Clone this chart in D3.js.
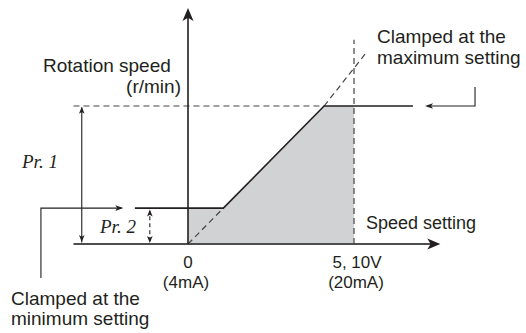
<!DOCTYPE html>
<html><head><meta charset="utf-8">
<script src="https://cdn.jsdelivr.net/npm/d3@7"></script>
<style>body{margin:0;background:#fff}svg{display:block}</style>
</head><body><svg id="c" width="526" height="333"></svg>
<script>
// ---- data (speed setting in % of full scale, rotation speed in % of Pr. 1) ----
const clampedX = [-32, 21.3, 82, 135.5];   // solid output characteristic
const clampedY = [26, 26, 100, 100];
const shadeX = [0, 0, 21.3, 82, 100, 100];
const shadeY = [0, 26, 26, 100, 100, 0];
const biasLowX = [0, 21.3];                 // dashed line below the minimum clamp
const biasLowY = [0, 26];
const biasHighX = [82, 107.2];              // dashed line above the maximum clamp
const biasHighY = [100, 138.4];
const pr1 = 100, pr2 = 26, fullScale = 100;
const xTickLabels = [["0", "(4mA)"], ["5, 10V", "(20mA)"]];
const xTickValues = [0, fullScale];

const svg = d3.select("#c");
const x = d3.scaleLinear().domain([0, 100]).range([188, 354]);
const y = d3.scaleLinear().domain([0, 100]).range([244, 106]);
const line = d3.line().x(d => x(d[0])).y(d => y(d[1]));
const zip = (a, b) => a.map((v, i) => [v, b[i]]);
const ink = "#231f20";

// shaded region
svg.append("path").attr("d", line(zip(shadeX, shadeY)) + "Z").attr("fill", "#d1d2d4");

// dashed guides
const dash = (pts, w) => svg.append("path").attr("d", line(pts)).attr("fill", "none")
  .attr("stroke", "#444").attr("stroke-width", w || 1.2).attr("stroke-dasharray", "6,4");
dash([[-69, pr1], [82, pr1]]);
dash([[fullScale, 0], [fullScale, 148]]);
dash(zip(biasLowX, biasLowY));
dash(zip(biasHighX, biasHighY));

// solid characteristic
svg.append("path").attr("d", line(zip(clampedX, clampedY))).attr("fill", "none")
  .attr("stroke", ink).attr("stroke-width", 1.6);

// arrowhead helper: tip at (tx,ty), direction angle (deg), length, half width
function head(tx, ty, ang, len, hw) {
  const a = ang * Math.PI / 180, c = Math.cos(a), s = Math.sin(a);
  const bx = tx - c * len, by = ty - s * len;
  const p = [[tx, ty], [bx - s * hw, by + c * hw], [tx - c * len * 0.75, ty - s * len * 0.75], [bx + s * hw, by - c * hw]];
  svg.append("path").attr("d", "M" + p.map(q => q.join(",")).join("L") + "Z").attr("fill", ink);
}

// axes
svg.append("line").attr("x1", x(-69)).attr("x2", x(150)).attr("y1", y(0)).attr("y2", y(0))
  .attr("stroke", "#4d4d4f").attr("stroke-width", 2.2);
head(x(152), y(0), 0, 13, 5.5);
svg.append("line").attr("x1", x(0)).attr("x2", x(0)).attr("y1", y(0)).attr("y2", y(167))
  .attr("stroke", ink).attr("stroke-width", 1.6);
head(x(0), y(171), -90, 13, 5.5);

// Pr.1 span arrow (solid)
svg.append("line").attr("x1", x(-64)).attr("x2", x(-64)).attr("y1", y(1)).attr("y2", y(99))
  .attr("stroke", ink).attr("stroke-width", 1.1);
head(x(-64), y(99.5), -90, 7, 2.8);
head(x(-64), y(1.4), 90, 7, 2.8);
// Pr.2 span arrow (dashed)
svg.append("line").attr("x1", x(-23)).attr("x2", x(-23)).attr("y1", y(2)).attr("y2", y(24))
  .attr("stroke", ink).attr("stroke-width", 1.1).attr("stroke-dasharray", "4,3");
head(x(-23), y(25), -90, 7, 2.8);
head(x(-23), y(0.8), 90, 7, 2.8);

// clamp callout arrows
svg.append("path").attr("d", line([[-88.6, -24.6], [-88.6, pr2], [-40, pr2]]))
  .attr("fill", "none").attr("stroke", ink).attr("stroke-width", 1.1);
head(x(-39), y(pr2), 0, 8, 2.8);
svg.append("path").attr("d", line([[172.9, 113.8], [172.9, pr1], [144, pr1]]))
  .attr("fill", "none").attr("stroke", ink).attr("stroke-width", 1.1);
head(x(142.8), y(pr1), 180, 8, 2.8);

// text
const sans = "'Liberation Sans', Arial, Helvetica, sans-serif";
function txt(t, px, py, anchor, opts) {
  opts = opts || {};
  return svg.append("text").attr("x", px).attr("y", py).attr("text-anchor", anchor || "start")
    .attr("font-family", opts.serif ? "'Liberation Serif', 'Times New Roman', serif" : sans)
    .attr("font-style", opts.serif ? "italic" : "normal")
    .attr("font-size", opts.size || 19).attr("fill", ink).text(t);
}
txt("Rotation speed", 43, 72);
txt("(r/min)", 181, 93, "end");
txt("Clamped at the", 377, 43);
txt("maximum setting", 377, 64);
txt("Clamped at the", 11, 305);
txt("minimum setting", 11, 325);
txt("Speed setting", 366, 229, "start", {size: 18});
txt("Pr. 1", 22, 168, "start", {serif: true, size: 19});
txt("Pr. 2", 100, 233, "start", {serif: true, size: 19});
xTickValues.forEach((v, i) => {
  txt(xTickLabels[i][0], x(v) + (i ? 3 : 0), 268, "middle", {size: 17});
  txt(xTickLabels[i][1], x(v) + (i ? 2 : -2), 288, "middle", {size: 17});
});
</script></body></html>
